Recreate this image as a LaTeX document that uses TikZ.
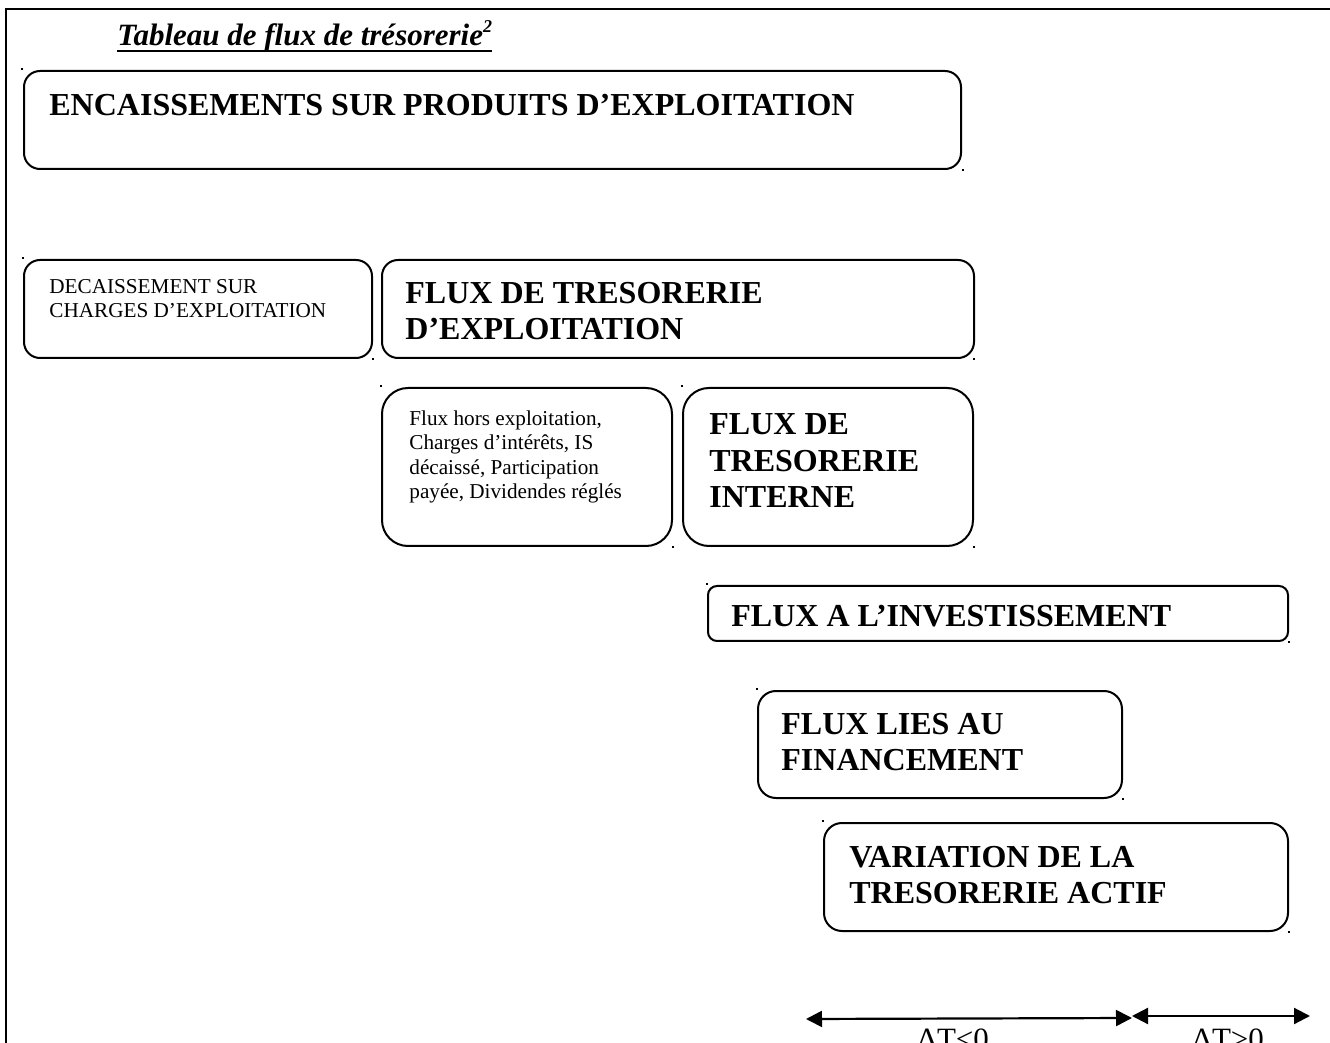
\documentclass[tikz,border=0pt]{standalone}
\usepackage{fontspec}
\setmainfont{Liberation Serif}
\usetikzlibrary{arrows.meta}
\begin{document}
\begin{tikzpicture}[x=0.5pt,y=-0.5pt,
  box/.style={draw, line width=1pt, anchor=north west, inner sep=0pt},
  big/.style={font=\fontsize{16}{18.2}\selectfont\bfseries, anchor=base west, align=left, inner sep=0pt},
  small/.style={font=\fontsize{10.6}{12.2}\selectfont, anchor=base west, align=left, inner sep=0pt},
  lbl/.style={font=\fontsize{15.5}{17.6}\selectfont, anchor=base, inner sep=0pt},
  dbl/.style={{Triangle[length=8pt,width=8pt]}-{Triangle[length=8pt,width=8pt]}, line width=1.1pt},
]
\clip (0,0) rectangle (1330,1043);
% frame
\coordinate (fb) at (6,1043);
\coordinate (fc) at (6,9);
\coordinate (fr) at (1330,9);
\draw[line width=1pt] (fb) -- (fc) -- (fr);

% title
\node[anchor=base west, inner sep=0pt, font=\fontsize{15.5}{18}\selectfont\bfseries\itshape] (title) at (117,46) {Tableau de flux de trésorerie\raisebox{6.5pt}{\fontsize{9}{10}\selectfont 2}};
\draw[line width=0.8pt] ([yshift=-2.6pt]title.base west) -- ([yshift=-2.6pt]title.base east);

% boxes
\node[box, rounded corners=8pt, minimum width=468.5pt, minimum height=49pt] (A) at (23,70) {};
\node[box, rounded corners=8pt, minimum width=174pt, minimum height=49pt] (B) at (23,259) {};
\node[box, rounded corners=8pt, minimum width=296pt, minimum height=49pt] (C) at (381,259) {};
\node[box, rounded corners=13pt, minimum width=145pt, minimum height=79pt] (D) at (381,387) {};
\node[box, rounded corners=13pt, minimum width=145pt, minimum height=79pt] (E) at (682,387) {};
\node[box, rounded corners=4.5pt, minimum width=290pt, minimum height=27.5pt] (F) at (707,585) {};
\node[box, rounded corners=9pt, minimum width=182pt, minimum height=53.5pt] (G) at (757,690) {};
\node[box, rounded corners=9pt, minimum width=232pt, minimum height=54pt] (H) at (823,822) {};

% anchor dots
\foreach \x/\y in {21/68, 962/169, 22/257, 372/358, 380/385, 973/358, 380/385, 672/546, 681/385, 973/546, 706/583, 1288/641, 756/688, 1122/798, 822/820, 1288/931}
  \fill (\x,\y) rectangle ++(2,2);

% texts (anchor = baseline of the last line)
\node[big] (At) at (49,115.5) {ENCAISSEMENTS SUR PRODUITS D’EXPLOITATION};
\node[small] (Bt) at (49,317.5) {DECAISSEMENT SUR\\CHARGES D’EXPLOITATION};
\node[big] (Ct) at (405,339.5) {FLUX DE TRESORERIE\\D’EXPLOITATION};
\node[small] (Dt) at (409,498.5) {Flux hors exploitation,\\Charges d’intérêts, IS\\décaissé, Participation\\payée, Dividendes réglés};
\node[big] (Et) at (709,507.5) {FLUX DE\\TRESORERIE\\INTERNE};
\node[big] (Ft) at (731,626.5) {FLUX A L’INVESTISSEMENT};
\node[big] (Gt) at (781,770.5) {FLUX LIES AU\\FINANCEMENT};
\node[big] (Ht) at (849,903.5) {VARIATION DE LA\\TRESORERIE ACTIF};

% bottom arrows
\coordinate (p1) at (806,1019);
\coordinate (p2) at (1132,1018);
\coordinate (p3) at (1132,1016);
\coordinate (p4) at (1310,1016);
\draw[dbl] (p1) -- (p2);
\draw[dbl] (p3) -- (p4);
\node[lbl] (l1) at (953,1049) {ΔT<0};
\node[lbl] (l2) at (1228,1049) {ΔT>0};
\end{tikzpicture}
\end{document}
